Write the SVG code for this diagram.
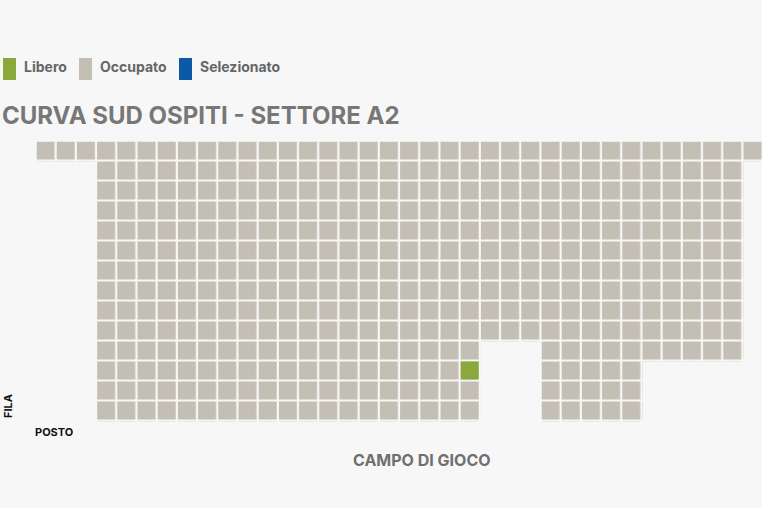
<svg xmlns="http://www.w3.org/2000/svg" width="762" height="508" viewBox="0 0 762 508">
<style>
text{font-family:Inter,"Liberation Sans",sans-serif;font-weight:700}
.leg{font-size:14px;fill:#666}
.title{font-size:24px;fill:#777}
.ax{font-size:11px;fill:#111}
.campo{font-size:16px;fill:#6f6f6f}
.seats{fill:url(#seat)}
</style>
<defs>
<pattern id="seat" patternUnits="userSpaceOnUse" x="36.5" y="141.5" width="20.2" height="20">
<rect x="0" y="0" width="18" height="18" fill="#c3bfb4"/>
</pattern>
</defs>
<rect width="762" height="508" fill="#f7f7f7"/>
<g id="legend">
<rect x="3" y="58" width="13" height="22" fill="#8aa83c"/>
<text class="leg" x="24" y="72">Libero</text>
<rect x="79" y="58" width="13" height="22" fill="#c3bfb4"/>
<text class="leg" x="100" y="72">Occupato</text>
<rect x="179" y="58" width="13" height="22" fill="#0a5aa6"/>
<text class="leg" x="200" y="72">Selezionato</text>
</g>
<text class="title" x="2" y="124">CURVA SUD OSPITI - SETTORE A2</text>
<g id="seatmap">
<rect class="seats" x="36.5" y="141.5" width="727.2" height="20"/>
<rect class="seats" x="97.1" y="161.5" width="646.4" height="180"/>
<rect class="seats" x="97.1" y="341.5" width="383.8" height="80"/>
<rect class="seats" x="541.5" y="341.5" width="202" height="20"/>
<rect class="seats" x="541.5" y="361.5" width="101" height="60"/>
<rect x="460.7" y="361.5" width="18" height="18" fill="#8aa83c"/>
</g>
<text class="ax" transform="translate(12,418) rotate(-90)">FILA</text>
<text class="ax" x="35" y="436">POSTO</text>
<text class="campo" x="353" y="466">CAMPO DI GIOCO</text>
</svg>
